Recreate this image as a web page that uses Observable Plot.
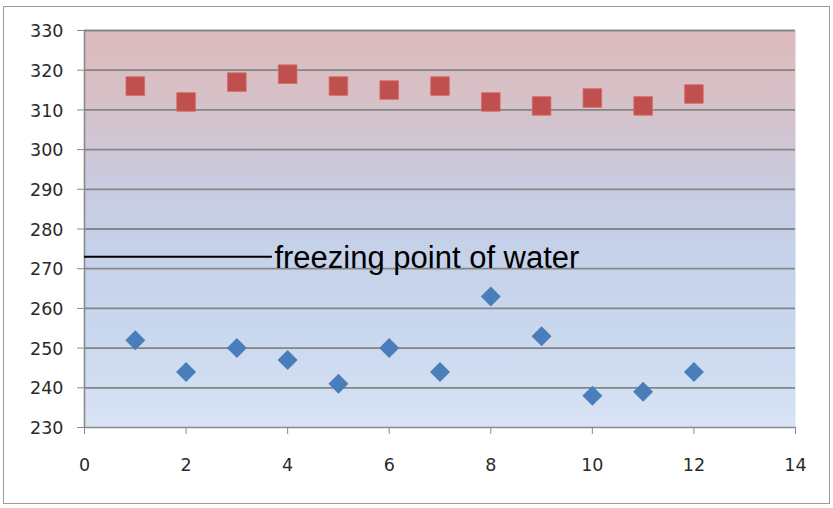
<!DOCTYPE html>
<html>
<head>
<meta charset="utf-8">
<script src="https://cdn.jsdelivr.net/npm/d3@7"></script>
<script src="https://cdn.jsdelivr.net/npm/@observablehq/plot@0.6"></script>
<style>
  html, body { margin: 0; padding: 0; background: #ffffff; }
  #wrap { position: relative; width: 833px; height: 508px; overflow: hidden; }
  #frame { position: absolute; left: 3px; top: 6px; width: 825px; height: 496px; border: 1px solid #9a9a9a; pointer-events: none; }
  #chart { position: absolute; left: 0; top: 0; }
</style>
</head>
<body>
<div id="wrap"><div id="chart"></div><div id="frame"></div></div>
<script>
const months = [1, 2, 3, 4, 5, 6, 7, 8, 9, 10, 11, 12];
const highValues = [316, 312, 317, 319, 316, 315, 316, 312, 311, 313, 311, 314];
const lowValues = [252, 244, 250, 247, 241, 250, 244, 263, 253, 238, 239, 244];
const freezingPoint = 273;
const freezingLineEnd = 3.7;
const freezingLabel = "freezing point of water";
const xTicks = [0, 2, 4, 6, 8, 10, 12, 14];
const yTicks = [230, 240, 250, 260, 270, 280, 290, 300, 310, 320, 330];

const high = months.map((m, i) => ({x: m, y: highValues[i]}));
const low = months.map((m, i) => ({x: m, y: lowValues[i]}));
const tickFont = "'DejaVu Sans', sans-serif";

const chart = Plot.plot({
  width: 833,
  height: 508,
  marginLeft: 84,
  marginRight: 38,
  marginTop: 30,
  marginBottom: 81,
  style: {background: "transparent"},
  x: {domain: [0, 14], ticks: xTicks},
  y: {domain: [230, 330], ticks: yTicks},
  marks: [
    Plot.frame({fill: "url(#bgGrad)", stroke: null}),
    Plot.gridY(yTicks.filter(t => t > 230), {stroke: "#858585", strokeOpacity: 1, strokeWidth: 1.8}),
    Plot.ruleY([230], {stroke: "#8a8a8a", strokeWidth: 1.6}),
    Plot.ruleX([0], {stroke: "#8a8a8a", strokeWidth: 1.6}),
    Plot.axisY({ticks: yTicks, tickSize: 7, stroke: "#8a8a8a", tickFormat: () => "", label: null}),
    Plot.axisX({ticks: xTicks, tickSize: 7, stroke: "#8a8a8a", tickFormat: () => "", label: null}),
    Plot.text(yTicks, {x: 0, y: d => d, text: d => String(d), textAnchor: "end", dx: -21, dy: 1, fontSize: 17.5, fontFamily: tickFont, fill: "#2a2a2a", clip: false}),
    Plot.text(xTicks, {x: d => d, y: 230, text: d => String(d), dy: 38, fontSize: 17.5, fontFamily: tickFont, fill: "#2a2a2a", clip: false}),
    Plot.ruleY([freezingPoint], {x1: 0, x2: freezingLineEnd, stroke: "#000", strokeWidth: 2}),
    Plot.text([freezingLabel], {x: freezingLineEnd, y: freezingPoint, text: d => d, textAnchor: "start", dx: 2, dy: 1, fontSize: 31, fill: "#000", fontFamily: "'Liberation Sans', Arial, sans-serif"}),
    Plot.dot(high, {x: "x", y: "y", symbol: "square", r: 10.5, fill: "#c0504d", stroke: "#d86a66", strokeWidth: 0.8}),
    Plot.dot(low, {x: "x", y: "y", symbol: "diamond2", r: 9, fill: "#4a7ebb", stroke: "none"})
  ]
});

const svgNS = "http://www.w3.org/2000/svg";
const defs = document.createElementNS(svgNS, "defs");
defs.innerHTML = `<linearGradient id="bgGrad" x1="0" y1="0" x2="0" y2="1">
  <stop offset="0" stop-color="#dcbbbd"/>
  <stop offset="0.18" stop-color="#d6c1c8"/>
  <stop offset="0.35" stop-color="#cbc9dc"/>
  <stop offset="0.5" stop-color="#c4d0e8"/>
  <stop offset="0.75" stop-color="#c9d7ee"/>
  <stop offset="1" stop-color="#d8e3f4"/>
</linearGradient>`;
chart.insertBefore(defs, chart.firstChild);
document.getElementById("chart").appendChild(chart);
</script>
</body>
</html>
